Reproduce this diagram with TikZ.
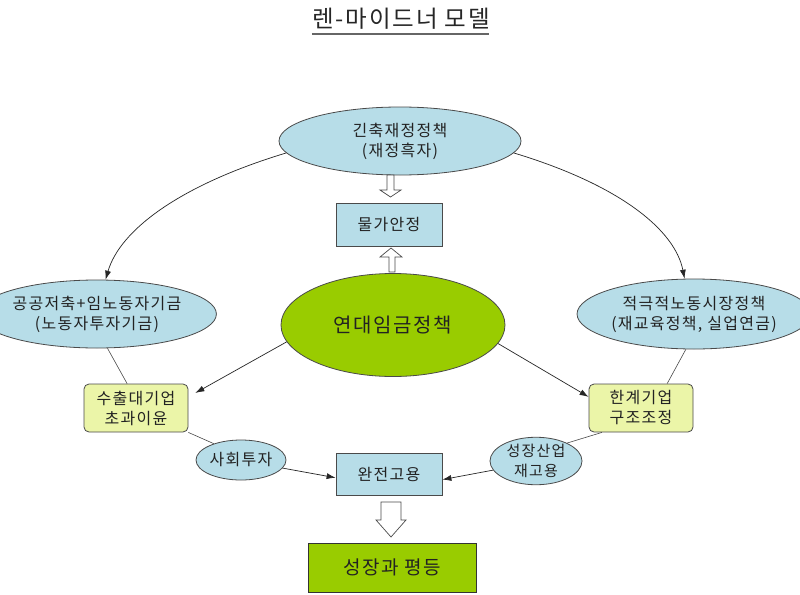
\documentclass[tikz,border=0pt]{standalone}
\usepackage{fontspec}
\setmainfont{Noto Sans CJK KR}[LetterSpace=8]
\usetikzlibrary{arrows.meta,shapes.geometric}
\definecolor{lblue}{HTML}{B7DDE8}
\definecolor{lyel}{HTML}{EBF5A8}
\definecolor{lgreen}{HTML}{99CC00}
\definecolor{edgec}{HTML}{4A4A4A}
\definecolor{txt}{HTML}{222222}
\tikzset{
  ell/.style={ellipse, draw=edgec, fill=lblue, inner sep=0pt, line width=0.8pt, align=center, text=txt,
    font=\fontsize{16}{20}\selectfont},
  sqbox/.style={rectangle, draw=edgec, fill=lblue, inner sep=0pt, line width=0.8pt, align=center, text=txt,
    font=\fontsize{16}{20}\selectfont},
  rbox/.style={rectangle, rounded corners=5pt, draw=edgec, fill=lyel, inner sep=0pt, line width=0.8pt, align=center, text=txt,
    font=\fontsize{16}{20}\selectfont},
  link/.style={draw=edgec, line width=0.6pt},
  arr/.style={draw=black!85, line width=0.7pt, -{Latex[length=9pt,width=6pt]}},
  hollow/.style={draw=edgec, fill=white, line width=0.7pt, line join=miter},
}
\begin{document}
\begin{tikzpicture}[x=1pt,y=-1pt]
\useasboundingbox (0,0) rectangle (800,594);
\fill[white] (0,0) rectangle (800,594);

% title
\node[inner sep=0pt, text=black!85, font=\fontsize{23.5}{26}\selectfont] (title) at (401,19) {렌-마이드너 모델};
\draw[black!60, line width=1.6pt] ([yshift=-4pt]title.south west) -- ([yshift=-4pt,xshift=-1pt]title.south east);

% nodes
\node[ell, minimum width=242pt, minimum height=68pt] (top) at (400,141) {긴축재정정책\\(재정흑자)};
\node[sqbox, minimum width=106pt, minimum height=43pt] (price) at (389,224.5) {물가안정};
\node[ell, fill=lgreen, minimum width=224pt, minimum height=103pt, font=\fontsize{20}{24}\selectfont] (wage) at (393,325) {연대임금정책};
\node[ell, minimum width=192pt, minimum height=68pt] (left) at (97,314) {공공저축+임노동자기금\\(노동자투자기금)};
\node[ell, minimum width=212pt, minimum height=70pt] (right) at (694,314) {적극적노동시장정책\\(재교육정책, 실업연금)};
\node[rbox, minimum width=104pt, minimum height=48pt] (lb) at (136,408) {수출대기업\\초과이윤};
\node[rbox, minimum width=104pt, minimum height=48pt] (rb) at (641,408) {한계기업\\구조조정};
\node[ell, minimum width=90pt, minimum height=40pt] (soc) at (241,460) {사회투자};
\node[ell, minimum width=92pt, minimum height=40pt, font=\fontsize{15}{20}\selectfont] (grow) at (536,461) {성장산업\\재고용};
\node[sqbox, minimum width=106pt, minimum height=42pt] (full) at (389,474) {완전고용};
\node[sqbox, fill=lgreen, draw=black!80, minimum width=168pt, minimum height=49pt, font=\fontsize{19}{22}\selectfont] (eq) at (392,567.5) {성장과 평등};

% hollow block arrows
\draw[hollow] (387,175) -- (394,175) -- (394,190) -- (401,190) -- (390.5,197) -- (380,190) -- (387,190) -- cycle;
\draw[hollow] (389,272) -- (395,272) -- (395,257) -- (402,257) -- (391,248) -- (380,257) -- (389,257) -- cycle;
\draw[hollow] (381,502) -- (401,502) -- (401,520) -- (406,520) -- (391,537) -- (376,520) -- (381,520) -- cycle;

% curved arrows
\draw[arr] (top.186) .. controls (180,185) and (120,230) .. (left.76);
\draw[arr] (top.354) .. controls (620,185) and (675,230) .. (right.105);

% straight links
\draw[link] (left.287) -- (lb.110);
\draw[link] (right.257) -- (rb.43);
\draw[link] (lb.-25) -- (soc.149);
\draw[link] (rb.212) -- (grow.30);

% arrows from wage policy
\draw[arr, shorten >=8pt] (wage.189.6) -- (lb.12);
\draw[arr] (wage.350) -- (rb.168);

% arrows to full employment
\draw[arr] (soc.349) -- (full.184);
\draw[arr] (grow.192) -- (full.354);
\end{tikzpicture}
\end{document}
